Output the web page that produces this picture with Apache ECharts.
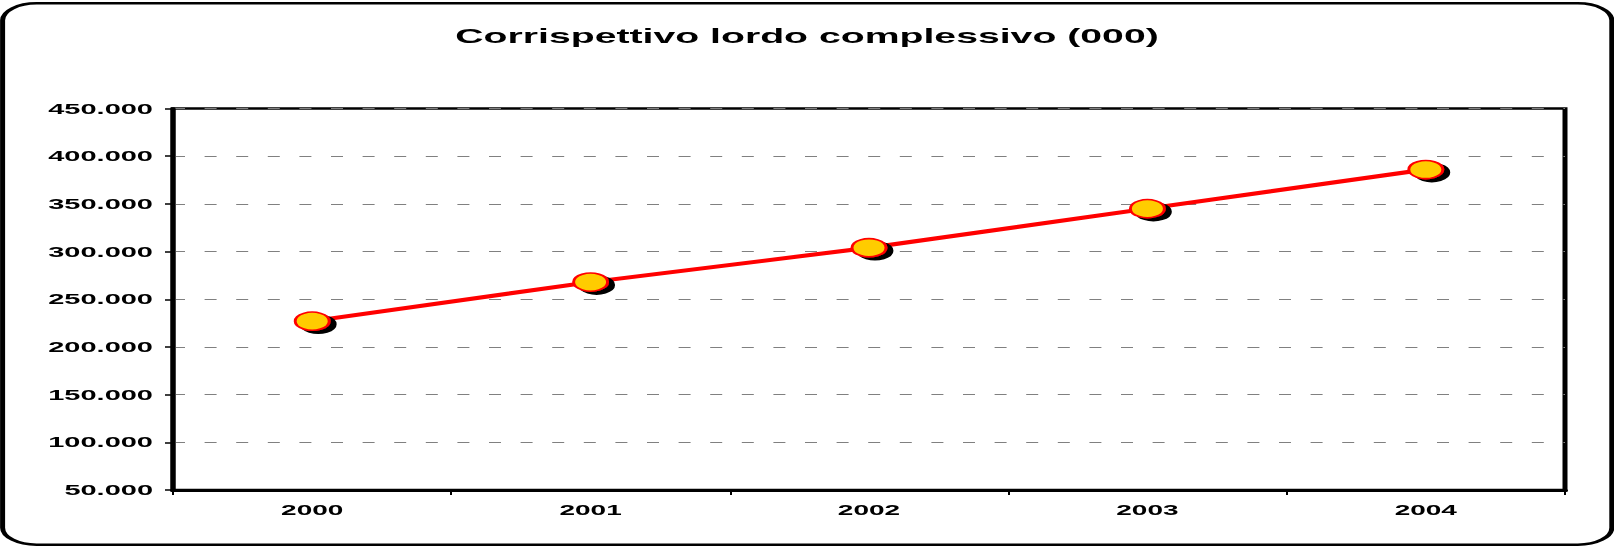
<!DOCTYPE html>
<html>
<head>
<meta charset="utf-8">
<script src="https://cdn.jsdelivr.net/npm/echarts@6/dist/echarts.min.js"></script>
<style>
  html, body { margin: 0; padding: 0; background: #fff; overflow: hidden; }
  #wrap { width: 1614px; height: 548px; overflow: hidden; }
  #chart { width: 807px; height: 548px; transform: scaleX(2); transform-origin: 0 0; }
</style>
</head>
<body>
<div id="wrap"><div id="chart"></div></div>
<script>
const titleText = 'Corrispettivo lordo complessivo (000)';
const years = ['2000', '2001', '2002', '2003', '2004'];
const values = [227000, 268000, 304000, 345000, 386000];
const yMin = 50000;
const yMax = 450000;
const yStep = 50000;

function fmt(v) {
  return String(v).replace(/\B(?=(\d{3})+(?!\d))/g, '.');
}

const FONT = '"Liberation Sans", Arial, sans-serif';
const chart = echarts.init(document.getElementById('chart'), null, { renderer: 'svg' });
chart.setOption({
  animation: false,
  backgroundColor: '#ffffff',
  title: {
    text: titleText,
    left: 'center',
    top: 21,
    textStyle: { fontFamily: FONT, fontSize: 19.6, fontWeight: 'bold', color: '#000' }
  },
  graphic: [{
    type: 'rect',
    shape: { x: 1.3, y: 3.3, width: 804.6, height: 541.4, r: 17 },
    style: { fill: 'none', stroke: '#000', lineWidth: 2.5 },
    z: 100
  }],
  grid: {
    left: 86.5, right: 24.5, top: 108.5, bottom: 58,
    show: true, borderColor: '#000', borderWidth: 2.5, backgroundColor: 'transparent'
  },
  xAxis: {
    type: 'category',
    data: years,
    boundaryGap: true,
    axisLine: { lineStyle: { color: '#000', width: 3 } },
    axisTick: { show: true, inside: false, length: 5, lineStyle: { color: '#000', width: 1 } },
    axisLabel: { margin: 13, fontFamily: FONT, fontSize: 14, fontWeight: 'bold', color: '#000' },
    splitLine: { show: false }
  },
  yAxis: {
    type: 'value',
    min: yMin, max: yMax, interval: yStep,
    axisLine: { show: true, lineStyle: { color: '#000', width: 2.5 } },
    axisTick: { show: true, length: 4, lineStyle: { color: '#000', width: 1.5 } },
    axisLabel: { margin: 10, formatter: fmt, fontFamily: FONT, fontSize: 14.5, fontWeight: 'bold', color: '#000' },
    splitLine: { show: true, lineStyle: { color: '#808080', width: 1, type: [6, 9.8] } }
  },
  series: [{
    type: 'line',
    data: values,
    symbol: 'circle',
    symbolSize: [17, 18],
    showSymbol: true,
    lineStyle: { color: '#ff0000', width: 4 },
    itemStyle: {
      color: '#ffcc00', borderColor: '#ff0000', borderWidth: 1.5,
      shadowColor: '#000', shadowOffsetX: 3, shadowOffsetY: 3, shadowBlur: 0.1
    },
    z: 3
  }]
});
</script>
</body>
</html>
